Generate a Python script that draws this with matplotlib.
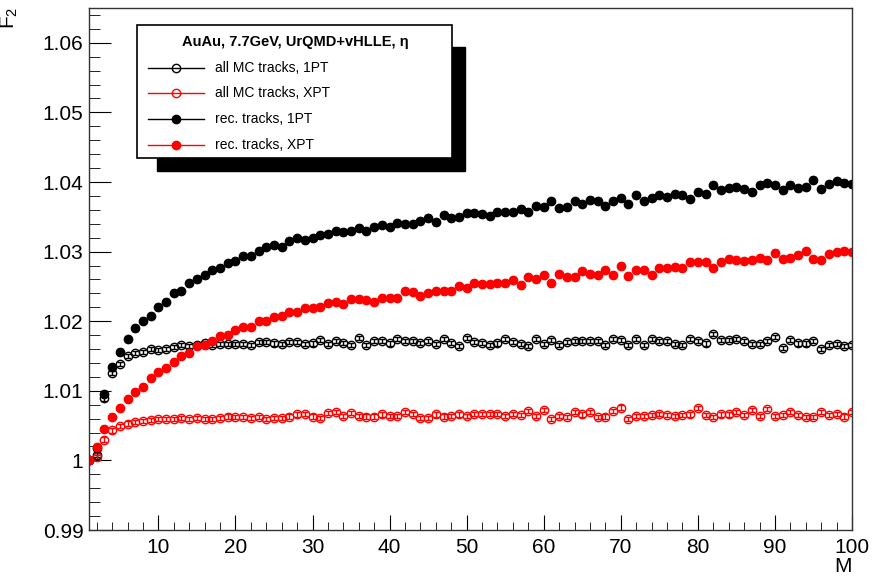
import matplotlib
matplotlib.use('Agg')
import matplotlib.pyplot as plt
from matplotlib.patches import Rectangle
from matplotlib.lines import Line2D
from matplotlib.ticker import MultipleLocator, FormatStrFormatter
import numpy as np

plt.rcParams['font.family'] = ['Liberation Sans', 'DejaVu Sans']
plt.rcParams['mathtext.fontset'] = 'custom'
plt.rcParams['mathtext.rm'] = 'Liberation Sans'
plt.rcParams['mathtext.it'] = 'Liberation Sans'

# multiplicity bins
M = np.arange(1, 101)

# all MC tracks, 1PT (black open)
mc_1pt = [1.0000, 1.0008, 1.0089, 1.0126, 1.0139, 1.0150, 1.0154, 1.0156, 1.0160, 1.0159,
          1.0160, 1.0163, 1.0166, 1.0164, 1.0166, 1.0168, 1.0166, 1.0167, 1.0167, 1.0167,
          1.0167, 1.0166, 1.0170, 1.0170, 1.0168, 1.0167, 1.0170, 1.0170, 1.0167, 1.0168,
          1.0173, 1.0167, 1.0172, 1.0169, 1.0166, 1.0176, 1.0166, 1.0172, 1.0172, 1.0168,
          1.0175, 1.0171, 1.0171, 1.0169, 1.0172, 1.0167, 1.0175, 1.0169, 1.0164, 1.0176,
          1.0170, 1.0169, 1.0166, 1.0168, 1.0175, 1.0170, 1.0167, 1.0164, 1.0174, 1.0167,
          1.0173, 1.0166, 1.0170, 1.0172, 1.0172, 1.0171, 1.0171, 1.0166, 1.0175, 1.0173,
          1.0166, 1.0175, 1.0166, 1.0175, 1.0172, 1.0171, 1.0167, 1.0166, 1.0175, 1.0171,
          1.0168, 1.0182, 1.0173, 1.0173, 1.0175, 1.0172, 1.0167, 1.0167, 1.0172, 1.0177,
          1.0162, 1.0173, 1.0168, 1.0168, 1.0172, 1.0160, 1.0166, 1.0167, 1.0164, 1.0166]

# all MC tracks, XPT (red open)
mc_xpt = [1.0000, 1.0005, 1.0030, 1.0043, 1.0049, 1.0053, 1.0055, 1.0057, 1.0058, 1.0060,
          1.0060, 1.0059, 1.0061, 1.0059, 1.0061, 1.0059, 1.0060, 1.0061, 1.0063, 1.0062,
          1.0062, 1.0061, 1.0062, 1.0059, 1.0061, 1.0061, 1.0063, 1.0066, 1.0067, 1.0063,
          1.0061, 1.0068, 1.0069, 1.0064, 1.0068, 1.0064, 1.0063, 1.0063, 1.0066, 1.0064,
          1.0064, 1.0070, 1.0067, 1.0061, 1.0061, 1.0066, 1.0063, 1.0064, 1.0066, 1.0064,
          1.0067, 1.0067, 1.0067, 1.0067, 1.0064, 1.0067, 1.0065, 1.0071, 1.0064, 1.0072,
          1.0059, 1.0064, 1.0062, 1.0070, 1.0066, 1.0069, 1.0062, 1.0063, 1.0071, 1.0076,
          1.0059, 1.0064, 1.0064, 1.0065, 1.0067, 1.0065, 1.0064, 1.0065, 1.0066, 1.0075,
          1.0065, 1.0062, 1.0066, 1.0066, 1.0069, 1.0065, 1.0072, 1.0064, 1.0074, 1.0064,
          1.0065, 1.0069, 1.0065, 1.0062, 1.0062, 1.0070, 1.0065, 1.0067, 1.0063, 1.0070]

# rec. tracks, 1PT (black filled)
rec_1pt = [1.0000, 1.0018, 1.0096, 1.0134, 1.0156, 1.0174, 1.0190, 1.0201, 1.0208, 1.0220,
           1.0228, 1.0241, 1.0244, 1.0255, 1.0261, 1.0266, 1.0273, 1.0277, 1.0284, 1.0287,
           1.0294, 1.0294, 1.0301, 1.0306, 1.0309, 1.0306, 1.0315, 1.0319, 1.0317, 1.0320,
           1.0324, 1.0326, 1.0330, 1.0328, 1.0330, 1.0334, 1.0329, 1.0336, 1.0338, 1.0336,
           1.0341, 1.0340, 1.0340, 1.0344, 1.0348, 1.0342, 1.0353, 1.0348, 1.0350, 1.0356,
           1.0356, 1.0354, 1.0351, 1.0357, 1.0357, 1.0357, 1.0361, 1.0357, 1.0366, 1.0364,
           1.0372, 1.0362, 1.0364, 1.0372, 1.0369, 1.0374, 1.0373, 1.0366, 1.0373, 1.0377,
           1.0369, 1.0381, 1.0373, 1.0377, 1.0381, 1.0378, 1.0383, 1.0381, 1.0375, 1.0386,
           1.0383, 1.0396, 1.0389, 1.0391, 1.0393, 1.0390, 1.0386, 1.0396, 1.0398, 1.0396,
           1.0388, 1.0396, 1.0391, 1.0393, 1.0403, 1.0390, 1.0397, 1.0401, 1.0399, 1.0397]

# rec. tracks, XPT (red filled)
rec_xpt = [1.0000, 1.0019, 1.0045, 1.0063, 1.0075, 1.0088, 1.0098, 1.0106, 1.0118, 1.0127,
           1.0133, 1.0141, 1.0150, 1.0154, 1.0164, 1.0166, 1.0172, 1.0179, 1.0180, 1.0188,
           1.0191, 1.0192, 1.0200, 1.0200, 1.0206, 1.0208, 1.0213, 1.0213, 1.0219, 1.0219,
           1.0220, 1.0226, 1.0228, 1.0224, 1.0232, 1.0232, 1.0231, 1.0227, 1.0234, 1.0234,
           1.0234, 1.0244, 1.0242, 1.0236, 1.0241, 1.0243, 1.0243, 1.0243, 1.0250, 1.0248,
           1.0255, 1.0253, 1.0253, 1.0255, 1.0255, 1.0259, 1.0252, 1.0264, 1.0260, 1.0266,
           1.0255, 1.0268, 1.0263, 1.0264, 1.0272, 1.0268, 1.0266, 1.0273, 1.0266, 1.0279,
           1.0265, 1.0273, 1.0273, 1.0267, 1.0277, 1.0277, 1.0278, 1.0276, 1.0285, 1.0285,
           1.0285, 1.0277, 1.0285, 1.0289, 1.0288, 1.0287, 1.0288, 1.0291, 1.0288, 1.0298,
           1.0290, 1.0291, 1.0295, 1.0301, 1.0289, 1.0288, 1.0297, 1.0300, 1.0301, 1.0300]

# statistical errors (roughly the same for every bin)
err_mc = 0.0003
err_rec = 0.0004

labels = ['all MC tracks, 1PT', 'all MC tracks, XPT',
          'rec. tracks, 1PT', 'rec. tracks, XPT']
title = 'AuAu, 7.7GeV, UrQMD+vHLLE, \u03b7'

W, H = 872, 578
fig = plt.figure(figsize=(W / 100, H / 100), dpi=100)
ax = fig.add_axes([89 / W, 1 - 530 / H, (852 - 89) / W, (530 - 8) / H])


def fx(px):
    return px / W


def fy(py):
    return 1 - py / H


series = [(mc_1pt, err_mc, 'black', 'none'),
          (mc_xpt, err_mc, 'red', 'none'),
          (rec_1pt, err_rec, 'black', 'black'),
          (rec_xpt, err_rec, 'red', 'red')]

for vals, err, col, fc in series:
    ax.errorbar(M, vals, yerr=err, fmt='o', color=col, mfc=fc, mec=col,
                ms=6, mew=1.0, elinewidth=1.0, capsize=2.5, capthick=1.0)

ax.set_xlim(1, 100)
ax.set_ylim(0.99, 1.065)
ax.xaxis.set_major_locator(MultipleLocator(10))
ax.xaxis.set_minor_locator(MultipleLocator(2))
ax.yaxis.set_major_locator(MultipleLocator(0.01))
ax.yaxis.set_minor_locator(MultipleLocator(0.002))
ax.yaxis.set_major_formatter(FormatStrFormatter('%g'))
ax.xaxis.set_major_formatter(FormatStrFormatter('%g'))
ax.tick_params(axis='both', which='both', direction='in', top=False, right=False,
               labelsize=15)
ax.tick_params(axis='y', which='major', length=16, pad=4)
ax.tick_params(axis='y', which='minor', length=8)
ax.tick_params(axis='x', which='major', length=11, pad=6)
ax.tick_params(axis='x', which='minor', length=6)
for s in ax.spines.values():
    s.set_linewidth(1.0)
    s.set_color('#333333')

fig.text(fx(852), fy(567), 'M', ha='right', va='center', fontsize=15)
fig.text(fx(9), fy(7), r'F$_{2}$', rotation=90, ha='center', va='top', fontsize=15)

# legend box with ROOT-like shadow
fig.patches.append(Rectangle((fx(157), fy(171)), fx(465) - fx(157), fy(47) - fy(171),
                             transform=fig.transFigure, fc='black', ec='black', zorder=5))
fig.patches.append(Rectangle((fx(137), fy(158)), fx(452) - fx(137), fy(25) - fy(158),
                             transform=fig.transFigure, fc='white', ec='black', lw=1.2, zorder=6))
fig.text(fx(295), fy(42), title, ha='center', va='center', fontsize=10.5,
         fontweight='bold', zorder=7)
ys = [68, 93, 119, 145]
for (vals, err, col, fc), lab, y in zip(series, labels, ys):
    fig.lines.append(Line2D([fx(148), fx(204)], [fy(y), fy(y)], color=col, lw=1.0,
                            transform=fig.transFigure, zorder=7))
    fig.lines.append(Line2D([fx(176)], [fy(y)], marker='o', ms=6, mfc=fc, mec=col,
                            mew=1.0, transform=fig.transFigure, zorder=8))
    fig.text(fx(215), fy(y), lab, ha='left', va='center', fontsize=10, zorder=7)

fig.savefig('out.png', dpi=100)
